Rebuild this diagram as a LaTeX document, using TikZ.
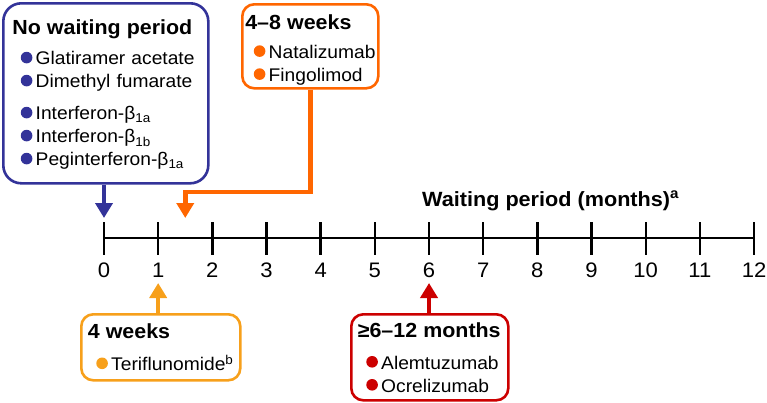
\documentclass[tikz,border=0pt]{standalone}
\usepackage{fontspec}
\setmainfont{Liberation Sans}[FakeStretch=1.05]
\usepackage{xcolor}
\usepackage{tikz}
\usetikzlibrary{arrows.meta,calc}
\definecolor{nowaitblue}{RGB}{51,51,153}
\definecolor{weeksorange}{RGB}{255,102,0}
\definecolor{fourwkyellow}{RGB}{247,160,27}
\definecolor{monthsred}{RGB}{204,0,0}
\newcommand{\nohyph}{\hyphenpenalty=10000\relax\exhyphenpenalty=10000\relax\hbadness=10000\relax\hfuzz=5pt\relax}
\tikzset{
  grp/.style  ={draw=#1, fill=white, line width=2.6pt, rounded corners=12pt, anchor=north west, align=left,
                inner xsep=6.5pt, inner ysep=0pt, font=\fontsize{18.3}{23}\selectfont\nohyph},
  link/.style ={draw=#1, line width=4.5pt, -{Triangle[width=17pt,length=15pt]}},
  tick/.style ={line width=2.4pt},
  num/.style  ={font=\fontsize{21}{24}\selectfont, inner sep=0pt},
  hdl/.style  ={font=\fontsize{20.6}{23}\selectfont\bfseries, inner sep=0pt}
}
\newcommand{\hd}[1]{{\fontsize{20.4}{23}\selectfont\bfseries #1}}
\newcommand{\itm}[2]{\mbox{\hspace*{8.5pt}\tikz[baseline=-7.3pt]\fill[#1] (0,0) circle[radius=5.8pt];\hspace*{3.3pt}#2}}

\begin{document}
\begin{tikzpicture}[x=1pt, y=-1pt]
  \useasboundingbox (0,0) rectangle (767,402);
  % time axis
  \foreach \m in {0,...,12}{
    \coordinate (m\m) at ({104+54.17*\m},238);
    \draw[tick] ([yshift=16pt]m\m) -- ([yshift=-17pt]m\m);
    \node[num] (n\m) at ([yshift=-32pt]m\m) {\m};
  }
  \draw[tick] (m0) -- (m12);
  \node[hdl, anchor=base west] (wp) at (422,206) {Waiting period (months)\textsuperscript{a}};
  \coordinate (mid) at ($(m1)!0.5!(m2)$);
  % groups
  \node[grp=nowaitblue, rounded corners=18pt, inner xsep=9pt, text width=187pt, minimum height=180pt] (nowait) at (2,2)
    {\hd{\rule{0pt}{18pt}No waiting period}\\[7pt]
     \itm{nowaitblue}{Glatiramer acetate}\\
     \itm{nowaitblue}{Dimethyl fumarate}\\[9pt]
     \itm{nowaitblue}{Interferon-β\textsubscript{1a}}\\
     \itm{nowaitblue}{Interferon-β\textsubscript{1b}}\\
     \itm{nowaitblue}{Peginterferon-β\textsubscript{1a}}};
  \node[grp=weeksorange, inner xsep=3pt, text width=130pt, minimum height=84pt] (w48) at (241,3)
    {\hd{\rule{0pt}{22pt}4–8 weeks}\\[6pt]
     \itm{weeksorange}{Natalizumab}\\
     \itm{weeksorange}{Fingolimod}};
  \node[grp=fourwkyellow, text width=146pt, minimum height=66pt] (w4) at (80,313)
    {\hd{4 weeks}\\[9pt]
     \itm{fourwkyellow}{Teriflunomide\textsuperscript{b}}};
  \node[grp=monthsred, text width=144pt, minimum height=86pt] (mo) at (350,313)
    {\hd{≥6–12 months}\\[9pt]
     \itm{monthsred}{Alemtuzumab}\\
     \itm{monthsred}{Ocrelizumab}};
  % pointers onto the axis
  \draw[link=nowaitblue] (nowait.south -| m0) -- ([yshift=20pt]m0);
  \draw[link=weeksorange] (w48.south) |- ([yshift=46pt]mid) -- ([yshift=20pt]mid);
  \draw[link=fourwkyellow] (w4.north -| m1) -- ([yshift=-45pt]m1);
  \draw[link=monthsred] (mo.north -| m6) -- ([yshift=-45pt]m6);
\end{tikzpicture}
\end{document}
